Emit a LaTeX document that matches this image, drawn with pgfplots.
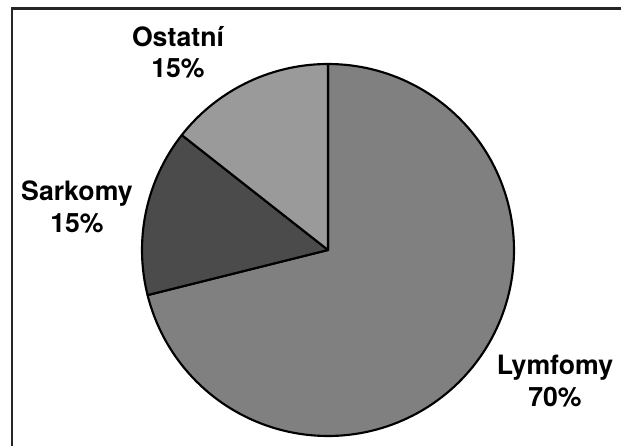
\documentclass[border=0pt]{standalone}
\usepackage{pgfplots}
\usepackage{pgfplotstable}
\usepackage{fontspec}
\setmainfont{TeX Gyre Heros}
\pgfplotsset{compat=1.18}
\definecolor{lym}{HTML}{808080}
\definecolor{sar}{HTML}{4B4B4B}
\definecolor{ost}{HTML}{9A9A9A}
\pgfplotstableread{
name value
Lymfomy 71.1
Sarkomy 14.5
Ostatni 14.4
}\piedata
\pgfplotstablegetelem{0}{value}\of\piedata \let\vA\pgfplotsretval
\pgfplotstablegetelem{1}{value}\of\piedata \let\vB\pgfplotsretval
\pgfplotstablegetelem{2}{value}\of\piedata \let\vC\pgfplotsretval
\pgfmathsetmacro\eA{90-3.6*\vA}
\pgfmathsetmacro\sB{\eA+360}
\pgfmathsetmacro\eB{\sB-3.6*\vB}
\begin{document}
\begin{tikzpicture}
\begin{axis}[width=465.75pt, height=334.5pt, scale only axis,
  xmin=0, xmax=621, ymin=0, ymax=446, hide axis, clip=false]
\addplot[fill=lym, draw=black, line width=1.6pt, line join=round, domain=\eA:90, samples=150, variable=\t]
  ({328+186*cos(\t)},{196+186*sin(\t)}) -- (axis cs:328,196) -- cycle;
\addplot[fill=sar, draw=black, line width=1.6pt, line join=round, domain=\eB:\sB, samples=40, variable=\t]
  ({328+186*cos(\t)},{196+186*sin(\t)}) -- (axis cs:328,196) -- cycle;
\addplot[fill=ost, draw=black, line width=1.6pt, line join=round, domain=90:\eB, samples=40, variable=\t]
  ({328+186*cos(\t)},{196+186*sin(\t)}) -- (axis cs:328,196) -- cycle;
\draw[black!85, line width=1.6pt] (axis cs:12,0) -- (axis cs:12,437.5) -- (axis cs:621,437.5);
\tikzset{lab/.style={anchor=base, inner sep=0pt, font=\fontsize{20}{24}\selectfont\bfseries}}
\node[lab] at (axis cs:178,399) {Ostatní};
\node[lab] at (axis cs:178,368) {15\%};
\node[lab] at (axis cs:77,245) {Sarkomy};
\node[lab] at (axis cs:77,213) {15\%};
\node[lab] at (axis cs:555,71) {Lymfomy};
\node[lab] at (axis cs:555,39) {70\%};
\end{axis}
\pgfresetboundingbox
\path[use as bounding box] (current axis.south west) rectangle (current axis.north east);
\end{tikzpicture}
\end{document}
